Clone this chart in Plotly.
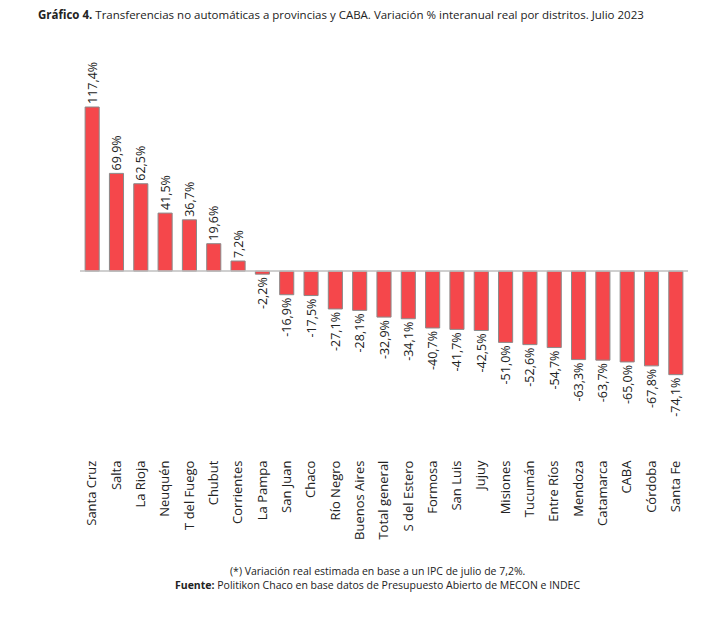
import plotly.graph_objects as go

distritos = ["Santa Cruz", "Salta", "La Rioja", "Neuquén", "T del Fuego", "Chubut", "Corrientes",
             "La Pampa", "San Juan", "Chaco", "Río Negro", "Buenos Aires", "Total general",
             "S del Estero", "Formosa", "San Luis", "Jujuy", "Misiones", "Tucumán", "Entre Ríos",
             "Mendoza", "Catamarca", "CABA", "Córdoba", "Santa Fe"]
variacion = [117.4, 69.9, 62.5, 41.5, 36.7, 19.6, 7.2, -2.2, -16.9, -17.5, -27.1, -28.1, -32.9,
             -34.1, -40.7, -41.7, -42.5, -51.0, -52.6, -54.7, -63.3, -63.7, -65.0, -67.8, -74.1]
etiquetas = [("%.1f%%" % v).replace(".", ",") for v in variacion]

fig = go.Figure(go.Bar(
    x=distritos, y=variacion, text=etiquetas, textposition="outside", textangle=-90,
    cliponaxis=False, width=0.58,
    marker=dict(color="#f5474b", line=dict(color="#8a8a8a", width=1)),
    textfont=dict(size=12.5, color="#222"),
))

fig.update_layout(
    width=728, height=618, paper_bgcolor="white", plot_bgcolor="white",
    margin=dict(l=72, r=48, t=47, b=169), showlegend=False,
    font=dict(family="Open Sans", color="#222"),
    uniformtext=dict(minsize=12, mode="show"),
    xaxis=dict(tickangle=-90, tickfont=dict(size=13, color="#222"), showline=False, ticks=""),
    yaxis=dict(range=[-133, 154.6], visible=False, zeroline=True),
    annotations=[
        dict(text="<b>Gráfico 4.</b> Transferencias no automáticas a provincias y CABA. Variación % interanual real por distritos. Julio 2023",
             xref="paper", yref="paper", x=-0.072, y=1.125, xanchor="left", showarrow=False,
             font=dict(size=11.5, color="#222")),
        dict(text="(*) Variación real estimada en base a un IPC de julio de 7,2%.",
             xref="paper", yref="paper", x=0.49, y=-0.305, showarrow=False, font=dict(size=10.5)),
        dict(text="<b>Fuente:</b> Politikon Chaco en base datos de Presupuesto Abierto de MECON e INDEC",
             xref="paper", yref="paper", x=0.49, y=-0.34, showarrow=False, font=dict(size=10.5)),
    ],
)
fig.add_hline(y=0, line=dict(color="#bfbfbf", width=1.5))
fig.write_html("out.html")
